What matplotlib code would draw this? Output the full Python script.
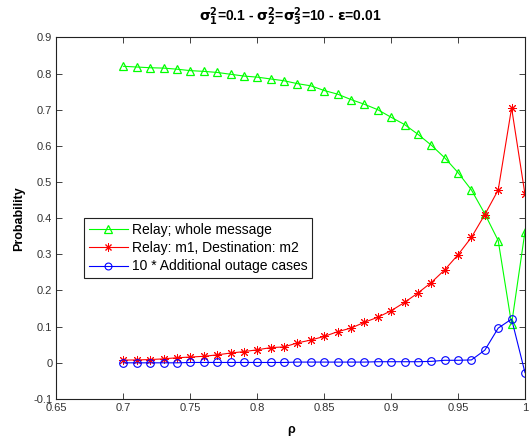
import numpy as np
import matplotlib
matplotlib.use("Agg")
import matplotlib.pyplot as plt

rho = [0.70, 0.71, 0.72, 0.73, 0.74, 0.75, 0.76, 0.77, 0.78, 0.79, 0.80,
       0.81, 0.82, 0.83, 0.84, 0.85, 0.86, 0.87, 0.88, 0.89, 0.90,
       0.91, 0.92, 0.93, 0.94, 0.95, 0.96, 0.97, 0.98, 0.99, 1.00]

relay_whole = [0.820, 0.818, 0.816, 0.815, 0.812, 0.808, 0.806, 0.803, 0.798, 0.793, 0.790,
               0.785, 0.780, 0.772, 0.766, 0.753, 0.743, 0.728, 0.715, 0.700, 0.679,
               0.659, 0.632, 0.602, 0.567, 0.526, 0.478, 0.412, 0.338, 0.107, 0.363]

relay_m1 = [0.0075, 0.008, 0.009, 0.011, 0.014, 0.016, 0.018, 0.022, 0.027, 0.031, 0.036,
            0.042, 0.044, 0.055, 0.063, 0.073, 0.086, 0.096, 0.112, 0.126, 0.144,
            0.167, 0.193, 0.222, 0.257, 0.299, 0.347, 0.410, 0.478, 0.705, 0.466]

outage10 = [0.000, 0.000, 0.000, 0.000, 0.000, 0.001, 0.001, 0.001, 0.001, 0.001, 0.001,
            0.001, 0.001, 0.002, 0.002, 0.002, 0.002, 0.002, 0.002, 0.003, 0.003,
            0.003, 0.003, 0.004, 0.007, 0.007, 0.008, 0.035, 0.096, 0.121, -0.027]

labels = ["Relay; whole message", "Relay: m1, Destination: m2", "10 * Additional outage cases"]

plt.rcParams['font.family'] = ['Liberation Sans', 'DejaVu Sans']
plt.rcParams['mathtext.fontset'] = 'dejavusans'
plt.rcParams['mathtext.default'] = 'bf'

fig = plt.figure(figsize=(5.32, 4.37), dpi=100)
ax = fig.add_axes([0.1062, 0.087, 0.8806, 0.8275])

ax.plot(rho, relay_whole, color=(0, 1, 0), lw=0.8, marker='^', ms=6,
        mfc='none', mec=(0, 1, 0), mew=0.9, label=labels[0])
ax.plot(rho, relay_m1, color='red', lw=0.8, marker=(8, 2, 0), ms=6.5,
        mfc='red', mec='red', mew=0.7, label=labels[1])
ax.plot(rho, outage10, color='blue', lw=0.8, marker='o', ms=5.5,
        mfc='none', mec='blue', mew=0.8, label=labels[2])

ax.set_xlim(0.65, 1.0)
ax.set_ylim(-0.1, 0.9)
ax.set_xticks([0.65, 0.7, 0.75, 0.8, 0.85, 0.9, 0.95, 1.0])
ax.set_xticklabels(['0.65', '0.7', '0.75', '0.8', '0.85', '0.9', '0.95', '1'])
ax.set_yticks(np.round(np.arange(-0.1, 0.91, 0.1), 1))
ax.set_yticklabels(['-0.1', '0', '0.1', '0.2', '0.3', '0.4', '0.5', '0.6', '0.7', '0.8', '0.9'])
ax.tick_params(direction='in', length=4, width=0.6, labelsize=8, colors='#222222',
               labelcolor='#333333', top=True, right=True, pad=3)
for s in ax.spines.values():
    s.set_linewidth(0.8)
    s.set_color('#222222')

ax.set_xlabel('ρ', fontsize=9, fontweight='bold', labelpad=8)
ax.set_ylabel('Probability', fontsize=9, fontweight='bold', labelpad=6)
ax.set_title(r'$\sigma_1^2$=0.1 - $\sigma_2^2$=$\sigma_3^2$=10 - $\epsilon$=0.01',
             fontsize=10, fontweight='bold', pad=12)

leg = ax.legend(loc='upper left', bbox_to_anchor=(0.0587, 0.5), borderaxespad=0,
                fontsize=10, fancybox=False, edgecolor='#222222', framealpha=1,
                handlelength=2.8, handletextpad=0.3, labelspacing=0.3,
                borderpad=0.35, markerscale=0.9)
leg.get_frame().set_linewidth(0.8)

fig.savefig('out.png', dpi=100)
